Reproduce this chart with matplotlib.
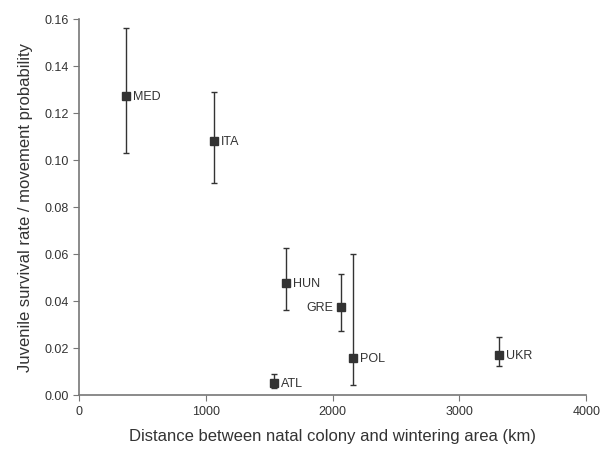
import matplotlib
matplotlib.use("Agg")
import matplotlib.pyplot as plt
import numpy as np

plt.rcParams["font.family"] = ["Liberation Sans", "DejaVu Sans"]

sites = ["MED", "ITA", "HUN", "GRE", "POL", "ATL", "UKR"]
distance = [371, 1065, 1633, 2067, 2162, 1538, 3316]
survival = [0.127, 0.108, 0.0477, 0.0376, 0.0156, 0.0051, 0.0172]
upper = [0.156, 0.129, 0.0626, 0.0514, 0.0601, 0.0089, 0.0245]
lower = [0.103, 0.090, 0.036, 0.0274, 0.0041, 0.003, 0.0123]
label_side = ["right", "right", "right", "left", "right", "right", "right"]

dark = "#333333"
axis_col = "#777777"

fig = plt.figure(figsize=(6, 4.52), dpi=100)
ax = fig.add_axes([0.1317, 0.124, 0.8453, 0.832])

y = np.array(survival)
yerr = [y - np.array(lower), np.array(upper) - y]
ax.errorbar(distance, survival, yerr=yerr, fmt="s", color=dark, ms=6,
            ecolor=dark, elinewidth=1, capsize=2.5, capthick=1)

for d, s, name, side in zip(distance, survival, sites, label_side):
    if side == "right":
        ax.annotate(name, (d, s), xytext=(5, 0), textcoords="offset points",
                    ha="left", va="center", fontsize=9, color=dark)
    else:
        ax.annotate(name, (d, s), xytext=(-6, 0), textcoords="offset points",
                    ha="right", va="center", fontsize=9, color=dark)

ax.set_xlim(0, 4000)
ax.set_ylim(0, 0.16)
ax.set_xticks(np.arange(0, 4001, 1000))
ax.set_yticks(np.arange(0, 0.161, 0.02))
ax.yaxis.set_major_formatter(matplotlib.ticker.FormatStrFormatter("%.2f"))
ax.tick_params(direction="out", length=4, color=axis_col, labelsize=9,
               labelcolor=dark)
for sp in ["top", "right"]:
    ax.spines[sp].set_visible(False)
for sp in ["left", "bottom"]:
    ax.spines[sp].set_color(axis_col)
    ax.spines[sp].set_linewidth(1.2)

ax.set_xlabel("Distance between natal colony and wintering area (km)",
              fontsize=12, color=dark, labelpad=8)
ax.set_ylabel("Juvenile survival rate / movement probability",
              fontsize=12, color=dark, labelpad=8)

fig.savefig("out.png", dpi=100)
